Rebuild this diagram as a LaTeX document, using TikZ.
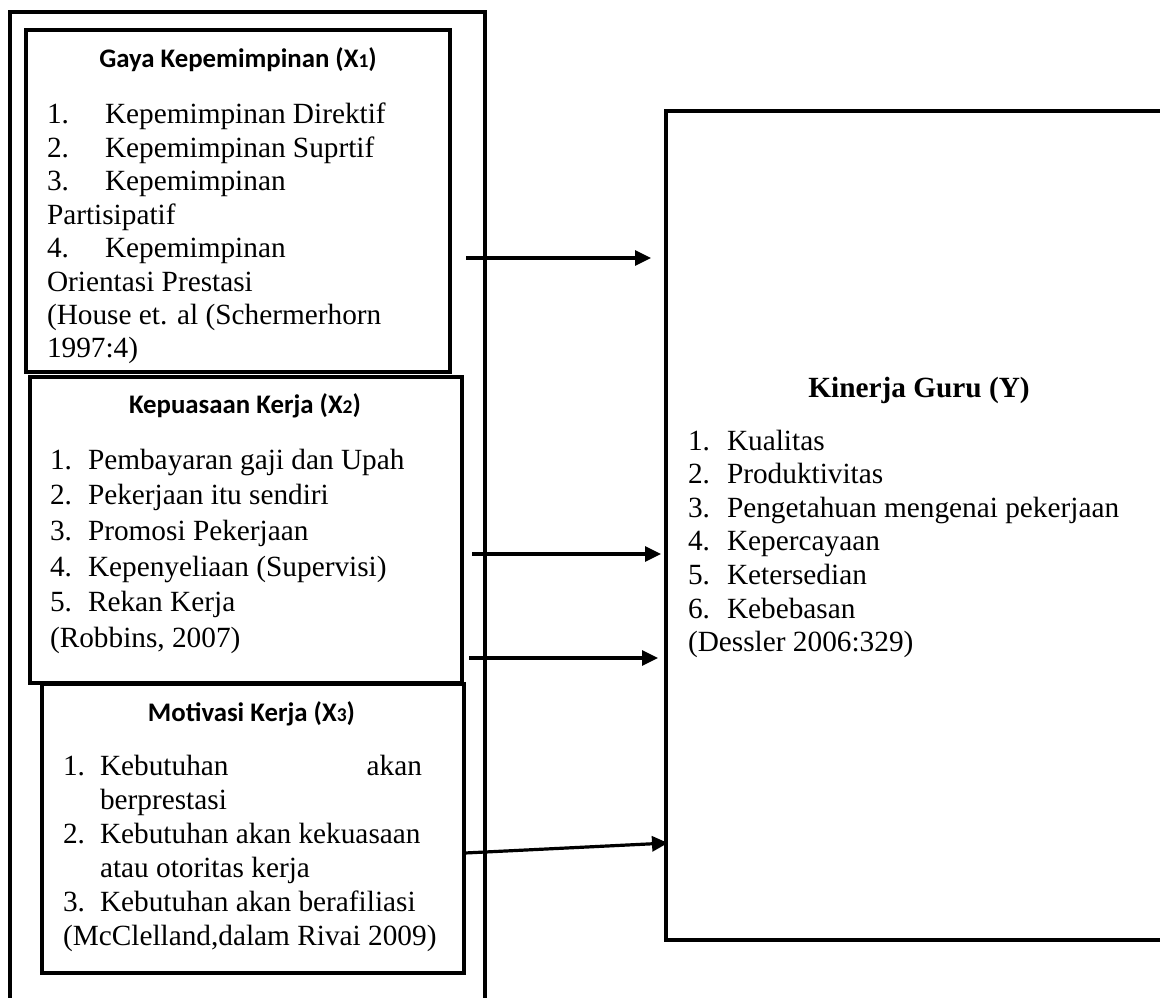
\documentclass[tikz,border=0pt]{standalone}
\usepackage{fontspec}
\setmainfont{Liberation Serif}
\newfontfamily\ttlfont{Carlito}
\usetikzlibrary{arrows.meta}
\newcommand{\bodyfs}{\fontsize{29.3}{33}\selectfont}
\newcommand{\ttlfs}{\fontsize{26.8}{30}\selectfont}
\newcommand{\subfs}{\fontsize{19.5}{20}\selectfont}
\tikzset{
  box/.style={draw=black, line width=3.1pt, rectangle, inner sep=0pt, outer sep=0pt},
  txt/.style={anchor=base west, inner sep=0pt, outer sep=0pt, font=\bodyfs},
  ttl/.style={anchor=base, inner sep=0pt, outer sep=0pt, font=\ttlfont\bfseries\ttlfs},
  ytl/.style={anchor=base, inner sep=0pt, outer sep=0pt, font=\bfseries\bodyfs},
  arr/.style={line width=3.2pt, -{Triangle[length=16pt,width=15pt]}}
}
\begin{document}
\begin{tikzpicture}[x=1pt,y=-1pt]
\useasboundingbox (0,0) rectangle (1160,998);
\fill[white] (0,0) rectangle (1160,998);
\clip (0,0) rectangle (1160,998);
% boxes
\node[box, minimum width=475pt, minimum height=1000pt] (outer) at (247.5,512) {};
\node[box, fill=white, minimum width=424pt, minimum height=342pt] (bx1) at (238,201) {};
\node[box, fill=white, minimum width=432pt, minimum height=306pt] (bx2) at (246,530) {};
\node[box, fill=white, minimum width=422pt, minimum height=289pt] (bx3) at (253,828.5) {};
\node[box, minimum width=506pt, minimum height=829pt] (by) at (919,525.5) {};
% X1
\node[ttl] (t1) at (238,68) {Gaya Kepemimpinan (X{\subfs 1})};
\node[txt] (a1n) at (47,124) {1.};
\node[txt] (a1) at (105,124) {Kepemimpinan Direktif};
\node[txt] (a2n) at (47,157.4) {2.};
\node[txt] (a2) at (105,157.4) {Kepemimpinan Suprtif};
\node[txt] (a3n) at (47,190.8) {3.};
\node[txt] (a3) at (105,190.8) {Kepemimpinan};
\node[txt] (a3b) at (47,224.2) {Partisipatif};
\node[txt] (a4n) at (47,257.6) {4.};
\node[txt] (a4) at (105,257.6) {Kepemimpinan};
\node[txt] (a4b) at (47,291) {Orientasi Prestasi};
\node[txt] (a5) at (47,324.4) {(House et. al (Schermerhorn};
\node[txt] (a6) at (47,357.8) {1997:4)};
% X2
\node[ttl] (t2) at (245,413) {Kepuasaan Kerja (X{\subfs 2})};
\node[txt] (b1n) at (50,469) {1.};
\node[txt] (b1) at (88,469) {Pembayaran gaji dan Upah};
\node[txt] (b2n) at (50,504.7) {2.};
\node[txt] (b2) at (88,504.7) {Pekerjaan itu sendiri};
\node[txt] (b3n) at (50,540.4) {3.};
\node[txt] (b3) at (88,540.4) {Promosi Pekerjaan};
\node[txt] (b4n) at (50,576.1) {4.};
\node[txt] (b4) at (88,576.1) {Kepenyeliaan (Supervisi)};
\node[txt] (b5n) at (50,611.8) {5.};
\node[txt] (b5) at (88,611.8) {Rekan Kerja};
\node[txt] (b6) at (50,647.5) {(Robbins, 2007)};
% X3
\node[ttl] (t3) at (251.5,721) {Motivasi Kerja (X{\subfs 3})};
\node[txt] (c1n) at (63,775) {1.};
\node[txt] (c1) at (100,775) {Kebutuhan};
\node[txt, anchor=base east] (c1r) at (422,775) {akan};
\node[txt] (c1b) at (100,809) {berprestasi};
\node[txt] (c2n) at (63,843) {2.};
\node[txt] (c2) at (100,843) {Kebutuhan akan kekuasaan};
\node[txt] (c2b) at (100,877) {atau otoritas kerja};
\node[txt] (c3n) at (63,911) {3.};
\node[txt] (c3) at (100,911) {Kebutuhan akan berafiliasi};
\node[txt] (c4) at (63,945) {(McClelland,dalam Rivai 2009)};
% Y
\node[ytl] (ty) at (919,397) {Kinerja Guru (Y)};
\node[txt] (y1n) at (688,450) {1.};
\node[txt] (y1) at (727,450) {Kualitas};
\node[txt] (y2n) at (688,483.6) {2.};
\node[txt] (y2) at (727,483.6) {Produktivitas};
\node[txt] (y3n) at (688,517.2) {3.};
\node[txt] (y3) at (727,517.2) {Pengetahuan mengenai pekerjaan};
\node[txt] (y4n) at (688,550.8) {4.};
\node[txt] (y4) at (727,550.8) {Kepercayaan};
\node[txt] (y5n) at (688,584.4) {5.};
\node[txt] (y5) at (727,584.4) {Ketersedian};
\node[txt] (y6n) at (688,618) {6.};
\node[txt] (y6) at (727,618) {Kebebasan};
\node[txt] (y7) at (688,651.6) {(Dessler 2006:329)};
% arrows
\coordinate (s1) at (466,258); \coordinate (e1) at (651,258);
\coordinate (s2) at (472,554); \coordinate (e2) at (661,554);
\coordinate (s3) at (469,658); \coordinate (e3) at (658,658);
\coordinate (s4) at (465,853); \coordinate (e4) at (668,843);
\draw[arr] (s1) -- (e1);
\draw[arr] (s2) -- (e2);
\draw[arr] (s3) -- (e3);
\draw[arr] (s4) -- (e4);
\end{tikzpicture}
\end{document}
